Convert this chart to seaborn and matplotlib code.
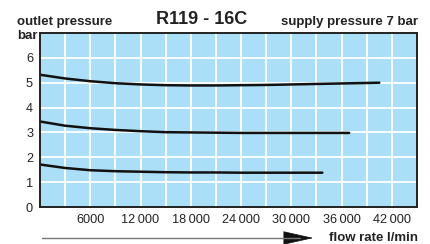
import matplotlib
matplotlib.use("Agg")
import matplotlib.pyplot as plt
import pandas as pd
import seaborn as sns

# flow rate (l/min) and outlet pressure (bar)
flow_top = [0, 3000, 6000, 9000, 12000, 15000, 18000, 21000, 24000, 27000, 30000, 33000, 36000, 39000, 40500]
p_top = [5.32, 5.17, 5.06, 4.98, 4.93, 4.90, 4.89, 4.89, 4.90, 4.91, 4.93, 4.95, 4.97, 4.99, 5.00]

flow_mid = [0, 3000, 6000, 9000, 12000, 15000, 18000, 21000, 24000, 27000, 30000, 33000, 36900]
p_mid = [3.44, 3.27, 3.17, 3.10, 3.05, 3.01, 3.00, 2.99, 2.98, 2.98, 2.98, 2.98, 2.98]

flow_low = [0, 3000, 6000, 9000, 12000, 15000, 18000, 21000, 24000, 27000, 30000, 33700]
p_low = [1.71, 1.57, 1.48, 1.44, 1.42, 1.40, 1.39, 1.39, 1.38, 1.38, 1.38, 1.38]

x_ticks = [6000, 12000, 18000, 24000, 30000, 36000, 42000]
x_ticklabels = ["6000", "12\u2009000", "18\u2009000", "24\u2009000", "30\u2009000", "36\u2009000", "42\u2009000"]
y_ticks = [0, 1, 2, 3, 4, 5, 6]

df = pd.concat([
    pd.DataFrame({"flow": flow_top, "p": p_top, "curve": "top"}),
    pd.DataFrame({"flow": flow_mid, "p": p_mid, "curve": "mid"}),
    pd.DataFrame({"flow": flow_low, "p": p_low, "curve": "low"}),
])

sns.set_style("white")
plt.rcParams["font.family"] = ["Liberation Sans", "DejaVu Sans"]

fig = plt.figure(figsize=(4.31, 2.44), dpi=100)
ax = fig.add_axes([0.0928, 0.1516, 0.8747, 0.7132])
ax.set_facecolor("#aadff7")

sns.lineplot(data=df, x="flow", y="p", units="curve", estimator=None,
             color="#111111", lw=1.8, ax=ax, legend=False)

ax.set_xlim(0, 45000)
ax.set_ylim(0, 7)
ax.set_xticks(range(0, 45001, 3000), minor=True)
ax.set_xticks(x_ticks)
ax.set_xticklabels(x_ticklabels, fontsize=9.2, color="#222222")
ax.set_yticks(y_ticks)
ax.set_yticklabels([str(v) for v in y_ticks], fontsize=9.2, color="#222222")
ax.set_yticks([7], minor=True)
ax.grid(True, which="both", color="white", lw=1.3)
ax.set_axisbelow(True)
ax.tick_params(length=0, which="both")
ax.tick_params(axis="x", pad=5)
ax.tick_params(axis="y", pad=5)
ax.set_xlabel("")
ax.set_ylabel("")
for s in ax.spines.values():
    s.set_color("#222222")
    s.set_linewidth(1.4)

fig.text(202 / 431, 1 - 20 / 244, "R119 - 16C", ha="center", va="center",
         fontsize=13, fontweight="bold", color="#222222")
fig.text(17 / 431, 1 - 22 / 244, "outlet pressure", ha="left", va="center",
         fontsize=9.5, fontweight="bold", color="#222222")
fig.text(17 / 431, 1 - 36 / 244, "bar", ha="left", va="center",
         fontsize=9.5, fontweight="bold", color="#222222")
fig.text(418 / 431, 1 - 22 / 244, "supply pressure 7 bar", ha="right", va="center",
         fontsize=9.5, fontweight="bold", color="#222222")
fig.text(418 / 431, 1 - 238 / 244, "flow rate l/min", ha="right", va="center",
         fontsize=9.5, fontweight="bold", color="#222222")

# gray shaft with black arrowhead
fig.add_artist(matplotlib.lines.Line2D([42 / 431, 300 / 431], [1 - 238 / 244, 1 - 238 / 244],
                                       transform=fig.transFigure, color="#777777", lw=1.0))
fig.patches.append(matplotlib.patches.FancyArrowPatch(
    (290 / 431, 1 - 238 / 244), (316 / 431, 1 - 238 / 244),
    transform=fig.transFigure, arrowstyle="-|>,head_length=20,head_width=4.5",
    color="#111111", lw=0.5, mutation_scale=1))

fig.savefig("out.png", dpi=100)
